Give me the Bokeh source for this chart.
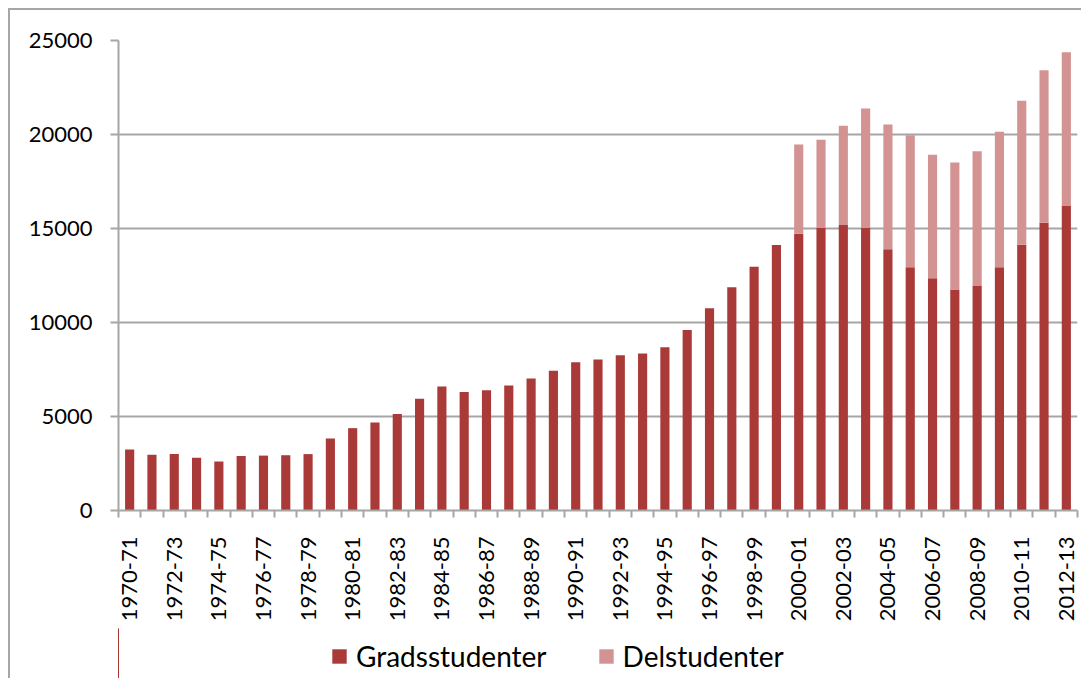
import math
from bokeh.plotting import figure
from bokeh.layouts import column
from bokeh.models import ColumnDataSource, FixedTicker, Legend, LegendItem, Range1d
from bokeh.embed import file_html
from bokeh.resources import INLINE

categories = [
    "1970-71", "1971-72", "1972-73", "1973-74", "1974-75", "1975-76", "1976-77",
    "1977-78", "1978-79", "1979-80", "1980-81", "1981-82", "1982-83", "1983-84",
    "1984-85", "1985-86", "1986-87", "1987-88", "1988-89", "1989-90", "1990-91",
    "1991-92", "1992-93", "1993-94", "1994-95", "1995-96", "1996-97", "1997-98",
    "1998-99", "1999-00", "2000-01", "2001-02", "2002-03", "2003-04", "2004-05",
    "2005-06", "2006-07", "2007-08", "2008-09", "2009-10", "2010-11", "2011-12",
    "2012-13",
]
gradsstudenter = [
    3240, 2960, 3010, 2800, 2600, 2900, 2920, 2940, 3000, 3830, 4380, 4680,
    5130, 5950, 6600, 6300, 6400, 6650, 7020, 7430, 7890, 8030, 8260, 8350,
    8690, 9600, 10760, 11880, 12970, 14120, 14720, 15020, 15180, 15020, 13900,
    12940, 12350, 11760, 11940, 12940, 14130, 15300, 16220,
]
delstudenter = [
    0, 0, 0, 0, 0, 0, 0, 0, 0, 0, 0, 0, 0, 0, 0, 0, 0, 0, 0, 0, 0, 0, 0, 0,
    0, 0, 0, 0, 0, 0, 4750, 4700, 5290, 6360, 6630, 7020, 6570, 6750, 7170,
    7210, 7670, 8120, 8160,
]
y_ticks = [0, 5000, 10000, 15000, 20000, 25000]
series_names = ["Gradsstudenter", "Delstudenter"]

DARK = "#A93A37"
PINK = "#D39392"
GRID = "#A6A6A6"
FONT = "Lato"

n = len(categories)
xs = list(range(n))
source = ColumnDataSource(dict(
    x=xs,
    grad=gradsstudenter,
    total=[g + d for g, d in zip(gradsstudenter, delstudenter)],
))

p = figure(
    frame_width=957, frame_height=468,
    x_range=Range1d(-0.5, n - 0.5), y_range=Range1d(0, 25000),
    output_backend="svg", toolbar_location=None,
    min_border_left=108, min_border_top=30, min_border_right=6, min_border_bottom=120,
)
p.styles = {"border-left": "2px solid #A6A6A6", "border-top": "2px solid #A6A6A6",
            "margin-left": "8px", "margin-top": "8px"}
p.outline_line_color = None

p.vbar(x="x", top="grad", bottom=0, width=0.41, source=source,
       fill_color=DARK, line_color=None)
p.vbar(x="x", top="total", bottom="grad", width=0.41, source=source,
       fill_color=PINK, line_color=None)

# x axis
p.xaxis.ticker = FixedTicker(ticks=xs[::2], minor_ticks=[i - 0.5 for i in range(n + 1)])
p.xaxis.major_label_overrides = {i: categories[i] for i in xs[::2]}
p.xaxis.major_label_orientation = math.pi / 2
p.xaxis.major_tick_out = 0
p.xaxis.major_tick_in = 0
p.xaxis.minor_tick_out = 7
p.xaxis.minor_tick_in = 0
p.xaxis.minor_tick_line_color = GRID
p.xaxis.minor_tick_line_width = 2
p.xaxis.axis_line_color = GRID
p.xaxis.axis_line_width = 2
p.xaxis.major_label_standoff = 19
p.xaxis.major_label_text_font = FONT
p.xaxis.major_label_text_font_size = "22px"
p.xaxis.major_label_text_color = "#000000"
p.xgrid.grid_line_color = None

# y axis
p.yaxis.ticker = FixedTicker(ticks=y_ticks)
p.yaxis.minor_tick_line_color = None
p.yaxis.major_tick_out = 8
p.yaxis.major_tick_in = 0
p.yaxis.major_tick_line_color = GRID
p.yaxis.major_tick_line_width = 2
p.yaxis.axis_line_color = GRID
p.yaxis.axis_line_width = 2
p.yaxis.major_label_standoff = 18
p.yaxis.major_label_text_font = FONT
p.yaxis.major_label_text_font_size = "22px"
p.yaxis.major_label_text_color = "#000000"
p.yaxis.formatter.use_scientific = False
p.ygrid.grid_line_color = GRID
p.ygrid.grid_line_width = 2
p.ygrid.ticker = FixedTicker(ticks=y_ticks[1:])

# legend strip below the chart (its bars use the same data but lie outside its view)
lg = figure(
    width=1076, height=50,
    x_range=Range1d(1000, 1001), y_range=Range1d(0, 1),
    x_axis_location=None, y_axis_location=None,
    output_backend="svg", toolbar_location=None,
    min_border_left=0, min_border_right=0, min_border_top=0, min_border_bottom=0,
)
lg.styles = {"border-left": "2px solid #A6A6A6", "margin-left": "8px"}
lg.outline_line_color = None
lg.xgrid.grid_line_color = None
lg.ygrid.grid_line_color = None
k1 = lg.vbar(x="x", top="grad", bottom=0, width=0.41, source=source,
             fill_color=DARK, line_color=None)
k2 = lg.vbar(x="x", top="total", bottom="grad", width=0.41, source=source,
             fill_color=PINK, line_color=None)

legend = Legend(
    items=[LegendItem(label=series_names[0], renderers=[k1]),
           LegendItem(label=series_names[1], renderers=[k2])],
    orientation="horizontal",
    location=(212, 5),
    label_text_font=FONT,
    label_text_font_size="28px",
    label_text_color="#000000",
    glyph_width=18, glyph_height=18,
    spacing=50,
    label_standoff=8,
    border_line_color=None,
    background_fill_alpha=0,
    margin=0,
    padding=4,
)
lg.add_layout(legend, "center")

layout = column(p, lg, spacing=0)
open("out.html", "w").write(file_html(layout, INLINE))
